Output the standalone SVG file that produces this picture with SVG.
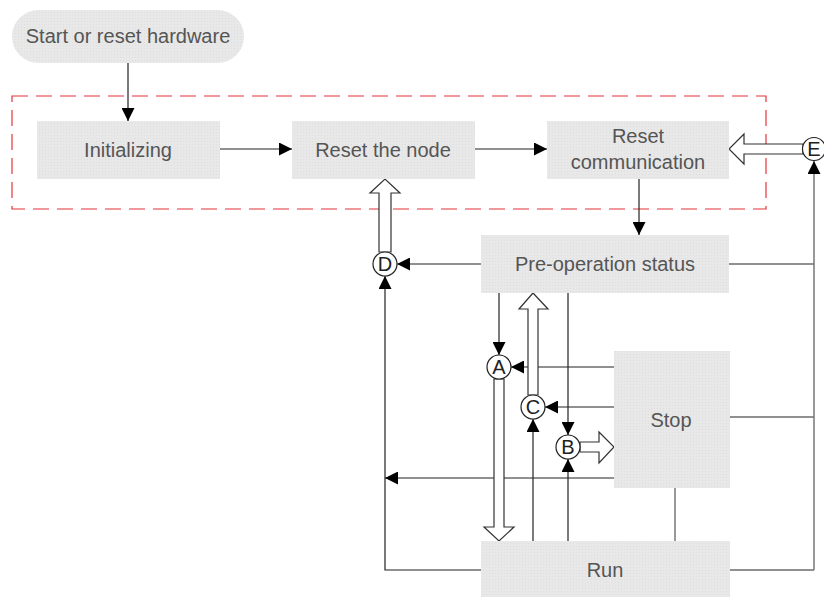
<svg xmlns="http://www.w3.org/2000/svg" width="824" height="597" viewBox="0 0 824 597">
<style>
.box{fill:url(#dots);stroke:none}
.lbl{font-family:"Liberation Sans",Arial,sans-serif;font-size:20px;fill:#555;text-anchor:middle}
.ltr{font-family:"Liberation Sans",Arial,sans-serif;font-size:20px;fill:#222;text-anchor:middle}
.ln{fill:none;stroke:#222;stroke-width:1.2}
.arr{marker-end:url(#ah)}
.gray{fill:none;stroke:#777;stroke-width:1.5}
.hol{fill:#fff;stroke:#333;stroke-width:1.2;stroke-linejoin:miter}
.cir{fill:#fff;stroke:#222;stroke-width:1.2}
</style>
<defs>
<pattern id="dots" width="3" height="3" patternUnits="userSpaceOnUse">
<rect width="3" height="3" fill="#e8e8e8"/>
<rect width="1" height="1" fill="#dedede"/>
</pattern>
<marker id="ah" markerUnits="userSpaceOnUse" markerWidth="13" markerHeight="13" refX="13" refY="6.5" orient="auto">
<path d="M0,0 L13,6.5 L0,13 z" fill="#000"/>
</marker>
</defs>
<rect width="824" height="597" fill="#fff"/>

<rect x="12" y="96" width="754" height="113" fill="none" stroke="#e4323c" stroke-width="1.2" stroke-dasharray="16,8"/>

<g id="connectors">
<path class="ln arr" d="M128,63 V121"/>
<path class="ln arr" d="M220,149 H292"/>
<path class="ln arr" d="M475,149 H547"/>
<path class="ln arr" d="M639,179 V235"/>
<path class="ln arr" d="M481,264 H397"/>
<path class="ln arr" d="M481,570 H385 V276"/>
<path class="ln arr" d="M499,293 V355"/>
<path class="ln arr" d="M614,367 H511"/>
<path class="ln arr" d="M614,407 H545"/>
<path class="ln arr" d="M533,541 V419"/>
<path class="ln arr" d="M568,293 V435"/>
<path class="ln arr" d="M568,541 V459"/>
<path class="ln arr" d="M614,478 H385"/>
<path class="ln" d="M729,264 H814"/>
<path class="ln" d="M730,417 H814"/>
<path class="ln" d="M730,570 H814"/>
<path class="gray arr" d="M814,570 V161"/>
<path class="gray" d="M675,488 V541"/>
<polygon class="hol" points="379,252 379,193 370,193 385,179 400,193 391,193 391,252"/>
<polygon class="hol" points="803,144 744,144 744,134 729,149 744,164 744,154 803,154"/>
<polygon class="hol" points="494,379 494,527 484,527 499,541 514,527 504,527 504,379"/>
<polygon class="hol" points="528,395 528,309 519,309 533,293 548,309 538,309 538,395"/>
<polygon class="hol" points="580,442 599,442 599,432 614,447 599,463 599,452 580,452"/>
</g>

<g id="start">
<rect class="box" x="12" y="10" width="232" height="53" rx="26.5"/>
<text class="lbl" x="128" y="43">Start or reset hardware</text>
</g>
<g id="initializing">
<rect class="box" x="37" y="121" width="183" height="58"/>
<text class="lbl" x="128" y="157">Initializing</text>
</g>
<g id="reset-node">
<rect class="box" x="292" y="121" width="183" height="58"/>
<text class="lbl" x="383" y="157">Reset the node</text>
</g>
<g id="reset-comm">
<rect class="box" x="547" y="121" width="182" height="58"/>
<text class="lbl" x="638" y="143">Reset</text>
<text class="lbl" x="638" y="169">communication</text>
</g>
<g id="pre-op">
<rect class="box" x="481" y="235" width="248" height="58"/>
<text class="lbl" x="605" y="271">Pre-operation status</text>
</g>
<g id="stop">
<rect class="box" x="614" y="351" width="116" height="137"/>
<text class="lbl" x="671" y="427">Stop</text>
</g>
<g id="run">
<rect class="box" x="481" y="541" width="249" height="56"/>
<text class="lbl" x="605" y="577">Run</text>
</g>
<g id="A"><circle class="cir" cx="499" cy="367" r="12"/><text class="ltr" x="499" y="374">A</text></g>
<g id="B"><circle class="cir" cx="568" cy="447" r="12"/><text class="ltr" x="568" y="454">B</text></g>
<g id="C"><circle class="cir" cx="533" cy="407" r="12"/><text class="ltr" x="533" y="414">C</text></g>
<g id="D"><circle class="cir" cx="385" cy="264" r="12"/><text class="ltr" x="385" y="271">D</text></g>
<g id="E"><circle class="cir" cx="814" cy="149" r="11.5"/><text class="ltr" x="814" y="156">E</text></g>
</svg>
